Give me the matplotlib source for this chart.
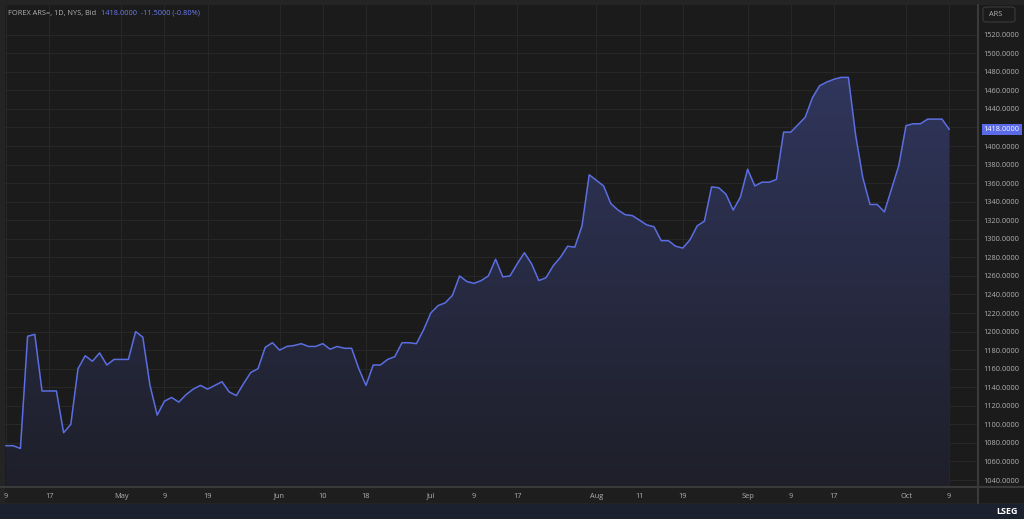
import numpy as np
import pandas as pd
import matplotlib
matplotlib.use("Agg")
import matplotlib.pyplot as plt
from matplotlib.colors import LinearSegmentedColormap
from matplotlib.patches import Polygon, Rectangle, FancyBboxPatch
from matplotlib.lines import Line2D

plt.rcParams['font.family'] = ['Open Sans', 'DejaVu Sans']

# daily bid, USD/ARS, every weekday from 9 Apr to 9 Oct 2025
dates = pd.bdate_range("2025-04-09", "2025-10-09")
bid = [
    1077, 1077, 1074, 1195, 1197, 1136, 1136, 1136, 1091, 1100,
    1160, 1174, 1168, 1177, 1164, 1170, 1170, 1170, 1200, 1194,
    1142, 1110, 1125, 1129, 1124, 1132, 1138, 1142, 1138, 1142,
    1146, 1135, 1131, 1144, 1156, 1160, 1183, 1188, 1180, 1184,
    1185, 1187, 1184, 1184, 1187, 1181, 1184, 1182, 1182, 1160,
    1142, 1164, 1164, 1170, 1173, 1188, 1188, 1187, 1202, 1220,
    1228, 1231, 1239, 1260, 1254, 1252, 1255, 1260, 1278, 1259,
    1260, 1273, 1285, 1273, 1255, 1258, 1271, 1280, 1292, 1291,
    1314, 1369, 1363, 1357, 1338, 1331, 1326, 1325, 1320, 1315,
    1313, 1298, 1298, 1292, 1290, 1299, 1314, 1319, 1356, 1355,
    1348, 1331, 1345, 1375, 1357, 1361, 1361, 1364, 1415, 1415,
    1423, 1431, 1452, 1465, 1469, 1472, 1474, 1474, 1412, 1366,
    1337, 1337, 1329, 1354, 1379, 1422, 1424, 1424, 1429, 1429,
    1429, 1418,
]
last_price = 1418.0

tick_dates = ["2025-04-09", "2025-04-17", "2025-05-01", "2025-05-09", "2025-05-19",
              "2025-06-02", "2025-06-10", "2025-06-18", "2025-07-01", "2025-07-09",
              "2025-07-17", "2025-08-01", "2025-08-11", "2025-08-19", "2025-09-01",
              "2025-09-09", "2025-09-17", "2025-10-01", "2025-10-09"]
tick_labels = ["9", "17", "May", "9", "19", "Jun", "10", "18", "Jul", "9",
               "17", "Aug", "11", "19", "Sep", "9", "17", "Oct", "9"]
y_ticks = list(range(1040, 1540, 20))

LINE = "#5b6ee1"
BG = "#1b1b1b"
GRID = "#272727"
TXT = "#b0b0b0"

W, H = 1024, 519
fig = plt.figure(figsize=(W / 100, H / 100), dpi=100, facecolor="#242424")

# plot area in pixel terms
px_l, px_r, px_t, px_b = 5, 978, 5, 487
ax = fig.add_axes([px_l / W, 1 - px_b / H, (px_r - px_l) / W, (px_b - px_t) / H])
ax.set_facecolor(BG)

# background bands outside the plot (behind the axes)
fig.patches.append(Rectangle((px_r / W, 1 - 503 / H), 1 - px_r / W, (503 - px_t) / H,
                             transform=fig.transFigure, facecolor=BG, zorder=-2))
fig.patches.append(Rectangle((px_l / W, 1 - 503 / H), (px_r - px_l) / W, (503 - px_b) / H,
                             transform=fig.transFigure, facecolor="#1e1e1e", zorder=-2))
fig.patches.append(Rectangle((0, 0), 1, 1 - 504 / H, transform=fig.transFigure,
                             facecolor="#1c2130", zorder=-2))

x = np.arange(len(bid))
pos = [dates.get_loc(pd.Timestamp(d)) for d in tick_dates]

ymin, ymax = 1032.5, 1552
xmin, xmax = -0.14, 135.0

for v in y_ticks:
    ax.axhline(v, color=GRID, lw=0.8, zorder=0.5)
for p in pos:
    ax.axvline(p, color=GRID, lw=0.8, zorder=0.5)

# gradient area under the line
verts = [(x[0], ymin)] + list(zip(x, bid)) + [(x[-1], ymin)]
clip = Polygon(verts, closed=True, transform=ax.transData, facecolor="none", edgecolor="none")
ax.add_patch(clip)
cmap = LinearSegmentedColormap.from_list("fill", ["#1e1f29", "#30365c"])
grad = ax.imshow(np.linspace(0, 1, 256).reshape(-1, 1), cmap=cmap, origin="lower",
                 extent=[x[0], x[-1], ymin, max(bid)], aspect="auto", zorder=1)
grad.set_clip_path(clip)

ax.plot(x, bid, color=LINE, lw=1.1, zorder=3)

ax.set_xlim(xmin, xmax)
ax.set_ylim(ymin, ymax)

ax.set_xticks(pos)
ax.set_xticklabels(tick_labels)
shown = [v for v in y_ticks if abs(v - last_price) > 5]
ax.yaxis.tick_right()
ax.set_yticks(shown)
ax.set_yticklabels([f"{v:.4f}" for v in shown])
ax.tick_params(axis="both", length=0, colors=TXT, labelsize=5.3)
ax.tick_params(axis="x", pad=4)
ax.tick_params(axis="y", pad=4)
for s in ax.spines.values():
    s.set_visible(False)

# separators
fig.lines.append(Line2D([0, 1], [1 - px_b / H] * 2, transform=fig.transFigure,
                        color="#3a3a3a", lw=1.5))
fig.lines.append(Line2D([px_r / W] * 2, [1 - 503 / H, 1 - px_t / H], transform=fig.transFigure,
                        color="#3a3a3a", lw=1.5))

# last price tag
ax.text(1.006, last_price, f"{last_price:.4f}", transform=ax.get_yaxis_transform(),
        ha="left", va="center", fontsize=5.3, color="white",
        bbox=dict(boxstyle="square,pad=0.3", facecolor="#5a6ae8", edgecolor="none"))

# currency box
box = FancyBboxPatch((983 / W, 1 - 22 / H), 32 / W, 15 / H, boxstyle="round,pad=0,rounding_size=0.004",
                     transform=fig.transFigure, facecolor=BG, edgecolor="#3a3a3a", lw=0.8)
fig.patches.append(box)
fig.text(989 / W, 1 - 14.5 / H, "ARS", fontsize=5.3, color=TXT, va="center", ha="left")

# header
head = fig.text(8 / W, 1 - 13 / H, "FOREX ARS=, 1D, NYS, Bid", fontsize=5.3, color=TXT,
                va="center")
r = fig.canvas.get_renderer()
x_end = head.get_window_extent(r).x1
fig.text((x_end + 5) / W, 1 - 13 / H, "1418.0000  -11.5000 (-0.80%)", fontsize=5.3,
         color="#6b7cf0", va="center")

fig.text(1018 / W, 1 - 512 / H, "LSEG", fontsize=6.5, color="white", fontweight="bold",
         ha="right", va="center")

fig.savefig("out.png", dpi=100, facecolor=fig.get_facecolor())
